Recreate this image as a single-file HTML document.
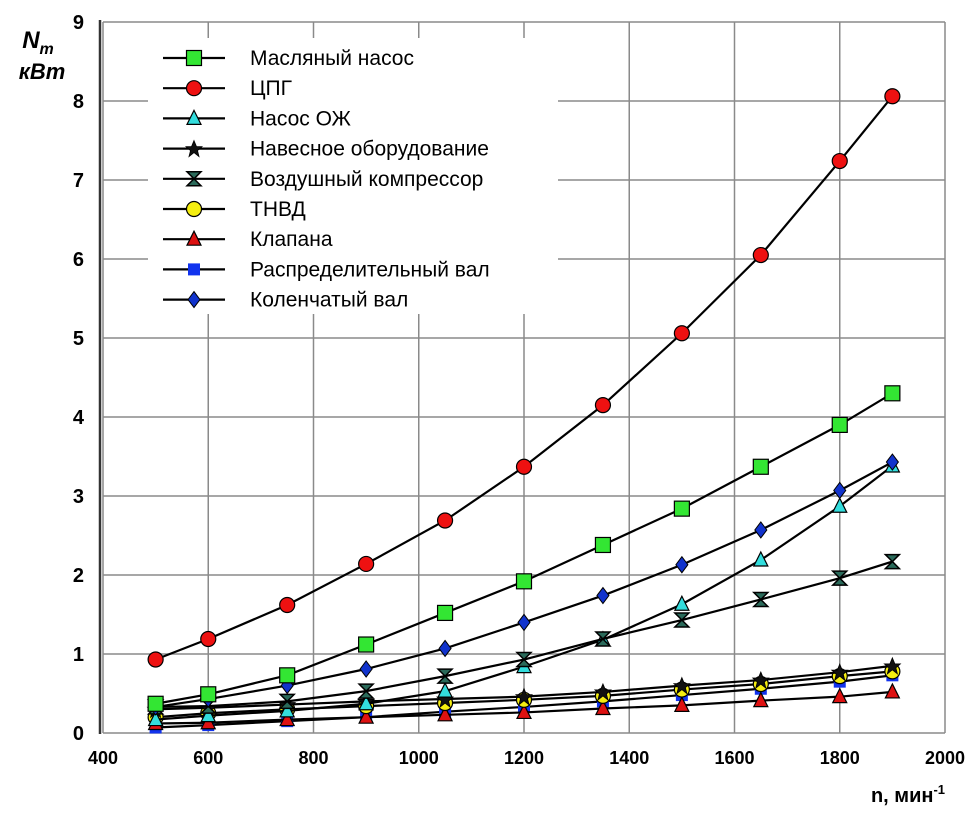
<!DOCTYPE html>
<html><head><meta charset="utf-8"><style>
html,body{margin:0;padding:0;background:#fff;}
svg{display:block;font-family:"Liberation Sans",Arial,sans-serif;}
</style></head><body>
<svg id="chart" width="980" height="815" viewBox="0 0 980 815" xmlns="http://www.w3.org/2000/svg">
<g id="grid"></g>
<g id="axes"></g>
<g id="series"></g>
<g id="legend"></g>
<text x="38" y="48" font-size="24" font-weight="bold" font-style="italic" text-anchor="middle">N<tspan font-size="16" dy="6">m</tspan></text>
<text x="42" y="79" font-size="22" font-weight="bold" font-style="italic" text-anchor="middle">кВт</text>
<text x="945" y="802" font-size="20" font-weight="bold" text-anchor="end">n, мин<tspan font-size="13" dy="-8">-1</tspan></text>
</svg>
<script>
const xTicks=[400,600,800,1000,1200,1400,1600,1800,2000];
const yTicks=[0,1,2,3,4,5,6,7,8,9];
const rpm=[500,600,750,900,1050,1200,1350,1500,1650,1800,1900];
const names=["Масляный насос","ЦПГ","Насос ОЖ","Навесное оборудование","Воздушный компрессор","ТНВД","Клапана","Распределительный вал","Коленчатый вал"];
const oilPump=[0.37,0.49,0.73,1.12,1.52,1.92,2.38,2.84,3.37,3.90,4.30];
const cpg=[0.93,1.19,1.62,2.14,2.69,3.37,4.15,5.06,6.05,7.24,8.06];
const coolantPump=[0.17,0.22,0.28,0.37,0.53,0.84,1.18,1.63,2.19,2.87,3.38];
const attached=[0.30,0.32,0.36,0.40,0.43,0.46,0.52,0.60,0.67,0.77,0.85];
const compressor=[0.33,0.34,0.40,0.53,0.72,0.93,1.19,1.43,1.69,1.96,2.17];
const fuelPump=[0.20,0.25,0.30,0.34,0.38,0.42,0.47,0.55,0.62,0.72,0.78];
const valves=[0.12,0.13,0.17,0.20,0.23,0.26,0.31,0.35,0.41,0.46,0.52];
const camshaft=[0.07,0.10,0.15,0.20,0.27,0.33,0.40,0.48,0.56,0.65,0.73];
const crankshaft=[0.33,0.43,0.60,0.81,1.07,1.40,1.74,2.13,2.57,3.07,3.43];
const NS="http://www.w3.org/2000/svg";
const X0=103,X1=945,Y0=733,Y1=22;
const xs=v=>X0+(v-400)/1600*(X1-X0);
const ys=v=>Y0-v/9*(Y0-Y1);
function mk(tag,attrs,parent){const e=document.createElementNS(NS,tag);for(const k in attrs)e.setAttribute(k,attrs[k]);parent.appendChild(e);return e;}
const grid=document.getElementById('grid'),axes=document.getElementById('axes'),ser=document.getElementById('series'),leg=document.getElementById('legend');
xTicks.forEach(t=>{const l=mk('line',{x1:xs(t),x2:xs(t),y1:Y1,y2:Y0,stroke:'#8a8a8a','stroke-width':1.5},grid);

const tx=mk('text',{x:xs(t),y:764,'font-size':18,'font-weight':'bold','text-anchor':'middle'},axes);tx.textContent=t;
});
yTicks.forEach(t=>{const l=mk('line',{x1:X0,x2:X1,y1:ys(t),y2:ys(t),stroke:'#8a8a8a','stroke-width':1.5},grid);

const tx=mk('text',{x:84,y:ys(t)+7,'font-size':20,'font-weight':'bold','text-anchor':'end'},axes);tx.textContent=t;
});
const ax=mk('line',{x1:100,x2:100,y1:Y1-2,y2:Y0+1,stroke:'#333','stroke-width':2.5},axes);

function marker(type,x,y,fill,g){let e;
 if(type==='sq')e=mk('rect',{x:x-7.5,y:y-7.5,width:15,height:15,fill,stroke:'#000','stroke-width':1.2},g);
 else if(type==='sqs')e=mk('rect',{x:x-6,y:y-6,width:12,height:12,fill,stroke:'none'},g);
 else if(type==='ci')e=mk('circle',{cx:x,cy:y,r:7.5,fill,stroke:'#000','stroke-width':1.2},g);
 else if(type==='tri')e=mk('polygon',{points:`${x},${y-8} ${x+7},${y+6} ${x-7},${y+6}`,fill,stroke:'#000','stroke-width':1.2},g);
 else if(type==='star')e=mk('polygon',{points:`${x},${y-8} ${x+2.5},${y-2} ${x+8},${y-2} ${x+3.5},${y+2} ${x+5},${y+8} ${x},${y+4} ${x-5},${y+8} ${x-3.5},${y+2} ${x-8},${y-2} ${x-2.5},${y-2}`,fill,stroke:'#000','stroke-width':0.8},g);
 else if(type==='hg')e=mk('polygon',{points:`${x-7},${y-7} ${x+7},${y-7} ${x},${y} ${x+7},${y+7} ${x-7},${y+7} ${x},${y}`,fill,stroke:'#000','stroke-width':1.5},g);
 else if(type==='dia')e=mk('polygon',{points:`${x},${y-8} ${x+6},${y} ${x},${y+8} ${x-6},${y}`,fill,stroke:'#000','stroke-width':1},g);
 }
const defs=[[oilPump,'sq','#33e633'],[cpg,'ci','#ee1111'],[coolantPump,'tri','#33dddd'],[attached,'star','#111'],[compressor,'hg','#2a6a5a'],[fuelPump,'ci','#f5ee10'],[valves,'tri','#dd1111'],[camshaft,'sqs','#1133ee'],[crankshaft,'dia','#1133cc']];
const order=[7,6,5,3,2,4,8,0,1];
order.forEach(i=>{const [vals,type,fill]=defs[i];const g=mk('g',{},ser);
 
 const pl=mk('polyline',{points:vals.map((v,j)=>xs(rpm[j])+','+ys(v)).join(' '),fill:'none',stroke:'#000','stroke-width':2.2},g);
 
 vals.forEach((v,j)=>marker(type,xs(rpm[j]),ys(v),fill,g));});
const bg=mk('rect',{x:148,y:38,width:410,height:276,fill:'#fff'},leg);

names.forEach((n,i)=>{const y=58+i*30.2;const g=mk('g',{},leg);
 
 mk('line',{x1:163,x2:225,y1:y,y2:y,stroke:'#000','stroke-width':2.2},g);
 marker(defs[i][1],194,y,defs[i][2],g);
 const t=mk('text',{x:250,y:y+7,'font-size':21},g);t.textContent=n;
 });
</script>
</body></html>
